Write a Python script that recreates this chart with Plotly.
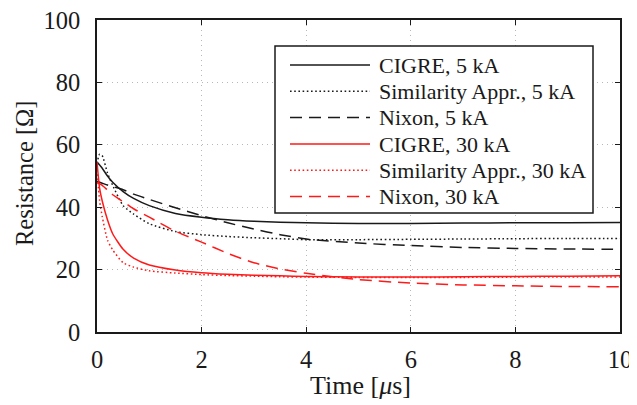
import plotly.graph_objects as go

# ---------------- data ----------------
time_us = [0, 0.05, 0.1, 0.2, 0.3, 0.5, 0.7, 1.0, 1.5, 2, 2.5, 3, 3.5, 4, 5, 6, 7, 8, 9, 10]

cigre_5ka = [54.5, 53.5, 52.5, 50.0, 48.0, 45.0, 42.8, 40.5, 38.0, 36.8, 36.0, 35.5, 35.2, 35.0, 34.8, 34.8, 34.9, 35.0, 35.0, 35.1]
simil_5ka = [54.0, 57.0, 56.5, 51.0, 47.0, 40.5, 37.8, 34.7, 32.2, 31.2, 30.6, 30.2, 29.9, 29.6, 29.6, 29.7, 29.8, 29.9, 30.0, 30.0]
nixon_5ka = [48.3, 48.0, 47.7, 47.1, 46.6, 45.6, 44.2, 42.5, 39.8, 37.3, 35.0, 33.0, 31.2, 29.8, 28.5, 27.7, 27.1, 26.8, 26.6, 26.5]
cigre_30ka = [54.5, 46.0, 42.0, 36.0, 31.5, 26.5, 23.7, 21.5, 19.9, 19.0, 18.5, 18.2, 18.0, 17.8, 17.6, 17.6, 17.7, 17.8, 17.9, 18.0]
simil_30ka = [52.0, 42.0, 37.0, 29.5, 26.3, 22.2, 20.8, 19.6, 18.9, 18.4, 18.1, 17.9, 17.7, 17.6, 17.5, 17.5, 17.5, 17.6, 17.6, 17.6]
nixon_30ka = [48.0, 47.5, 47.0, 45.5, 44.0, 41.8, 39.5, 36.8, 32.3, 28.8, 25.2, 22.2, 20.2, 18.8, 16.8, 15.7, 15.1, 14.8, 14.6, 14.5]

series_names = ["CIGRE, 5 kA", "Similarity Appr., 5 kA", "Nixon, 5 kA",
                "CIGRE, 30 kA", "Similarity Appr., 30 kA", "Nixon, 30 kA"]
series_values = [cigre_5ka, simil_5ka, nixon_5ka, cigre_30ka, simil_30ka, nixon_30ka]

x_ticks = [0, 2, 4, 6, 8, 10]
y_ticks = [0, 20, 40, 60, 80, 100]

# ---------------- styles ----------------
BLACK = "#1a1a1a"
RED = "#ff1a1a"
colors = [BLACK, BLACK, BLACK, RED, RED, RED]
dashes = ["solid", "1.6px,2.6px", "12px,7px", "solid", "1.6px,2.6px", "12px,7px"]
FONT = "Liberation Serif, Times New Roman, serif"

fig = go.Figure()
for name, vals, c, d in zip(series_names, series_values, colors, dashes):
    fig.add_trace(go.Scatter(x=time_us, y=vals, mode="lines", name=name,
                             line=dict(color=c, width=1.5, dash=d, shape="spline", smoothing=0.6),
                             showlegend=False))

# Page pixels (the page body adds an 8 px offset to the figure)
OFF = 8
L, R, T, B = 97 - OFF, 620 - OFF, 20 - OFF, 332 - OFF   # plot area in figure pixels
W, H = R - L, B - T
def px(xp):
    return (xp - OFF - L) / W
def py(yp):
    return (B - (yp - OFF)) / H

shapes = [dict(type="rect", xref="paper", yref="paper",
               x0=px(275), x1=px(593), y0=py(213), y1=py(46),
               line=dict(color=BLACK, width=1.5), fillcolor="white", layer="above")]
annotations = []
row_y = [65, 91.3, 117.6, 144, 170.3, 196.6]
for name, c, d, ry in zip(series_names, colors, dashes, row_y):
    shapes.append(dict(type="line", xref="paper", yref="paper",
                       x0=px(290), x1=px(370), y0=py(ry), y1=py(ry),
                       line=dict(color=c, width=1.5, dash=d), layer="above"))
    annotations.append(dict(xref="paper", yref="paper", x=px(377), y=py(ry),
                            text=name, showarrow=False, xanchor="left", yanchor="middle",
                            font=dict(family=FONT, size=22, color=BLACK)))

annotations.append(dict(xref="paper", yref="paper", x=px(360), y=py(385),
                        text="Time [<i>μ</i>s]", showarrow=False,
                        xanchor="center", yanchor="middle",
                        font=dict(family=FONT, size=26, color=BLACK)))
annotations.append(dict(xref="paper", yref="paper", x=px(24), y=py(174),
                        text="Resistance [Ω]", showarrow=False, textangle=-90,
                        xanchor="center", yanchor="middle",
                        font=dict(family=FONT, size=24.5, color=BLACK)))

axis_common = dict(showline=True, linecolor=BLACK, linewidth=1.6, mirror="ticks",
                   ticks="inside", ticklen=5, tickcolor=BLACK, tickwidth=1,
                   showgrid=True, gridcolor="#b8b8b8", griddash="1px,4px", gridwidth=1,
                   zeroline=False, automargin=False, ticklabeloverflow="allow",
                   tickfont=dict(family=FONT, size=24.5, color=BLACK))

fig.update_layout(
    width=637, height=405,
    margin=dict(l=L, r=637 - R, t=T, b=405 - B, autoexpand=False),
    paper_bgcolor="white", plot_bgcolor="white",
    font=dict(family=FONT, color=BLACK),
    xaxis=dict(range=[0, 10], tickvals=x_ticks, ticklabelstandoff=5, **axis_common),
    yaxis=dict(range=[0, 100], tickvals=y_ticks, ticklabelstandoff=10, **axis_common),
    shapes=shapes, annotations=annotations,
    showlegend=False,
)

fig.write_html("out.html")
